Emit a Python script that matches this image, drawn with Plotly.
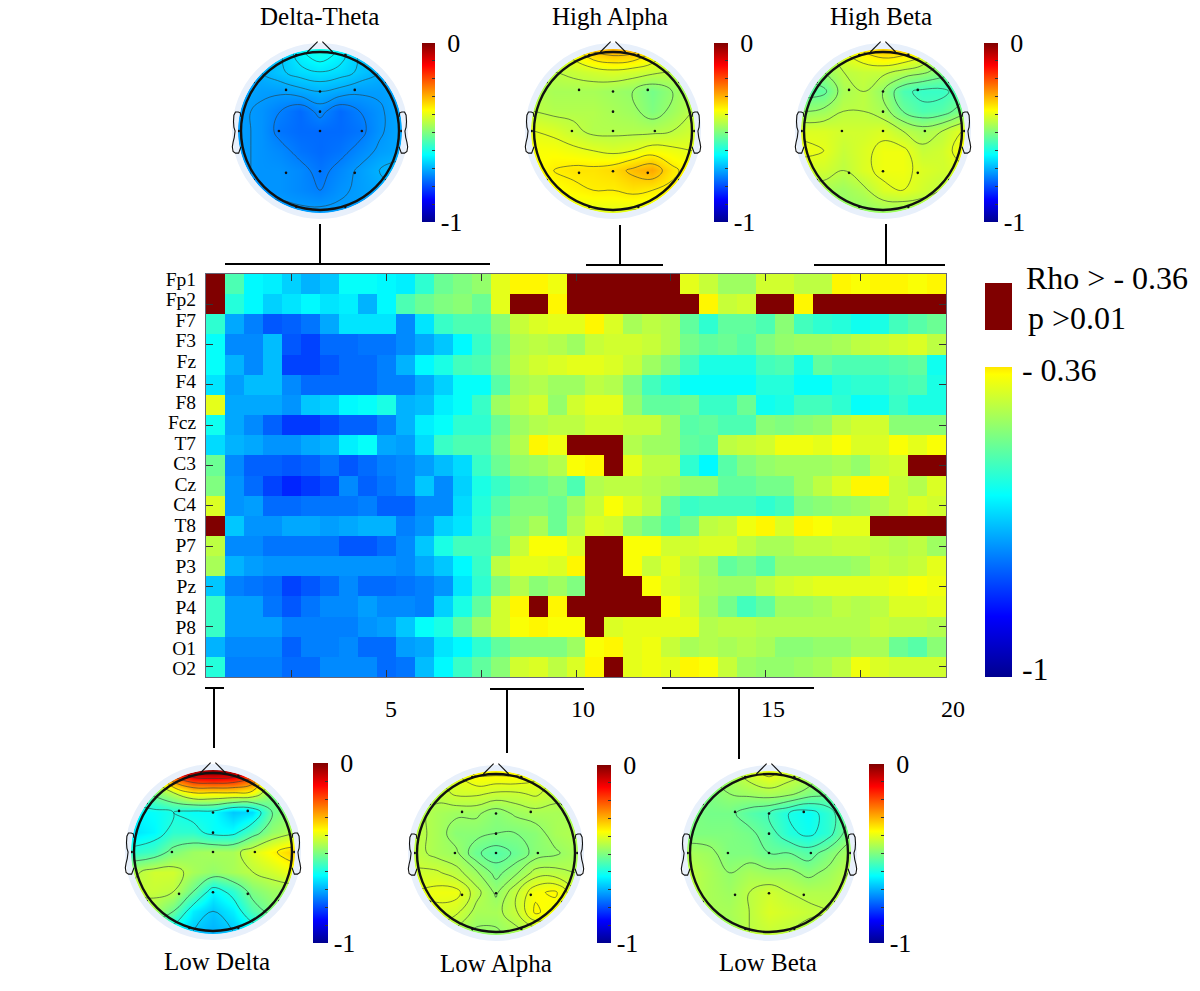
import numpy as np
import plotly.graph_objects as go

W, H = 1200, 991
FONT = "Liberation Serif"

CHANNELS = ["Fp1","Fp2","F7","F3","Fz","F4","F8","Fcz","T7","C3","Cz","C4","T8","P7","P3","Pz","P4","P8","O1","O2"]
X_TICKS = [2.5, 5, 7.5, 10, 12.5, 15, 17.5]
X_LABELS = ["5", "10", "15", "20"]
THRESHOLD = -0.36

# correlation values in hundredths of negative rho (39 frequency bins, 0.5 Hz step)
FP1 = [30,55,63,64,67,70,68,62,62,63,64,58,52,50,48,40,37,37,39,30,30,30,30,30,30,40,43,47,47,42,42,44,44,37,38,37,37,38,37]
FP2 = [30,59,63,67,65,63,65,64,70,63,55,52,50,49,52,40,30,30,37,30,30,30,30,30,30,30,37,43,42,30,30,37,30,30,30,30,30,30,30]
F7  = [58,71,75,79,78,76,71,65,65,65,74,65,57,55,55,49,43,41,40,40,37,41,46,44,45,53,58,53,53,55,49,56,58,59,61,60,56,54,52]
F3  = [62,74,74,69,79,81,77,77,76,76,74,71,68,63,57,51,45,44,45,47,43,42,42,43,45,51,53,52,54,50,48,47,47,46,44,43,42,41,44]
FZ  = [62,70,74,69,81,81,79,77,77,75,70,63,60,56,55,50,44,42,41,40,40,41,43,47,50,56,60,60,60,56,55,60,53,55,55,55,54,53,61]
F4  = [65,72,69,69,74,77,77,77,77,75,75,71,67,62,62,54,46,45,47,47,44,45,50,56,59,62,62,62,62,59,59,62,62,59,58,58,56,55,60]
F8  = [40,71,71,71,73,68,67,63,62,60,70,69,64,62,57,47,44,42,48,42,40,40,48,53,53,52,57,57,52,61,60,56,56,58,62,61,57,60,60]
FCZ = [61,71,74,78,82,82,80,78,78,75,70,64,62,58,58,52,47,45,44,44,42,42,43,43,47,54,53,55,55,49,50,49,48,44,42,42,49,49,49]
T7  = [66,70,71,73,73,71,70,64,62,71,72,66,57,55,55,50,45,37,39,30,30,30,45,47,47,53,54,44,43,42,39,39,40,38,41,41,38,40,38]
C3  = [52,74,78,78,79,78,76,79,77,75,74,72,69,66,57,52,48,47,45,38,37,30,40,44,44,58,63,54,50,48,47,47,47,46,48,43,42,30,30]
CZ  = [50,73,77,81,84,82,80,74,78,76,74,68,74,67,60,57,53,52,50,55,45,44,44,45,46,48,48,53,53,51,51,47,44,41,37,37,43,45,41]
C4  = [41,73,72,77,77,76,76,76,75,78,78,74,74,66,59,54,50,50,52,47,43,38,41,44,53,57,56,56,56,58,56,50,49,48,47,45,43,41,42]
T8  = [30,68,73,73,71,71,72,71,70,70,75,73,67,65,58,51,49,46,52,45,41,42,48,51,55,51,44,43,39,37,41,37,38,40,40,30,30,30,30]
P7  = [44,74,74,76,76,76,76,79,79,77,74,68,60,56,56,52,43,38,38,41,30,30,38,38,42,42,41,41,44,46,46,44,44,43,43,44,45,44,47]
P3  = [46,70,72,73,73,73,73,73,73,73,74,71,68,63,57,44,40,40,41,37,30,30,38,43,40,44,47,53,51,54,48,48,48,48,47,43,44,43,40]
PZ  = [68,75,76,77,81,79,77,74,77,77,76,75,73,65,58,50,45,49,47,50,30,30,30,38,41,43,46,47,47,44,42,41,40,40,40,40,39,38,39]
P4  = [57,72,72,76,79,76,74,74,72,74,74,75,67,60,53,42,37,30,37,30,30,30,30,30,38,42,47,51,56,53,47,47,46,44,45,44,41,41,40]
P8  = [57,72,72,72,75,75,75,75,73,72,68,62,60,53,47,42,38,37,38,38,30,41,40,40,40,40,45,44,44,45,45,45,45,45,45,43,44,44,45]
O1  = [70,74,74,74,78,75,75,74,77,77,72,71,65,63,58,53,50,50,50,47,38,37,40,39,43,46,45,46,45,46,49,49,48,48,46,46,52,54,49]
O2  = [59,75,75,75,77,77,74,74,74,77,76,69,63,57,53,49,42,41,44,41,37,30,40,39,40,37,38,43,47,48,48,47,46,44,39,41,42,42,42]
RHO_ROWS = [FP1,FP2,F7,F3,FZ,F4,F8,FCZ,T7,C3,CZ,C4,T8,P7,P3,PZ,P4,P8,O1,O2]

# scalp maps: negative rho in hundredths on a coarse 9 x 9 grid, top row first
DELTA_THETA = [[70,70,68,63,60,63,68,70,70],[71,70,68,66,65,66,68,70,71],[71,72,72,71,70,71,72,72,71],
               [72,73,75,77,74,77,75,73,71],[72,73,76,77,77,77,76,73,71],[72,73,74,76,77,76,74,72,71],
               [72,73,73,74,76,74,72,70,69],[72,73,73,74,75,73,72,71,70],[72,72,72,72,72,72,72,72,72]]
HIGH_ALPHA = [[42,42,38,32,30,31,36,42,42],[44,44,43,42,41,42,43,44,44],[45,46,46,46,47,48,51,48,45],
              [44,45,45,45,46,47,50,47,44],[40,41,43,45,45,45,45,44,42],[38,38,39,40,41,40,38,39,40],
              [38,36,35,35,34,31,29,35,38],[39,38,37,36,36,35,36,37,39],[41,41,40,40,40,40,40,41,41]]
HIGH_BETA = [[47,46,40,36,33,34,38,46,48],[50,48,44,43,43,45,47,50,52],[54,53,46,44,48,55,57,57,54],
             [48,47,44,44,46,52,55,54,50],[41,41,42,42,41,44,46,44,40],[39,40,43,41,39,39,43,42,38],
             [42,42,44,41,39,39,41,42,41],[46,46,47,45,41,40,42,44,46],[49,49,48,48,47,47,47,48,48]]
LOW_DELTA = [[50,40,15,5,3,5,15,45,50],[55,50,44,36,36,36,38,50,52],[63,62,60,62,62,68,66,52,48],
             [65,63,58,58,62,62,55,48,45],[58,56,50,47,46,46,41,37,33],[45,42,42,46,48,46,44,42,39],
             [43,43,44,52,63,58,50,47,47],[48,46,52,64,68,64,55,50,48],[60,60,64,68,70,68,64,60,58]]
LOW_ALPHA = [[42,42,40,37,37,37,39,42,42],[44,44,42,42,43,43,42,44,44],[44,46,47,47,49,47,46,46,46],
             [44,46,49,49,50,50,49,46,45],[44,46,47,52,54,52,49,48,46],[42,42,44,47,51,48,44,44,45],
             [40,39,39,44,48,43,38,37,42],[42,41,42,46,46,43,37,39,42],[44,44,46,48,48,46,44,43,44]]
LOW_BETA = [[48,48,46,42,39,42,44,50,52],[50,50,48,47,46,47,50,52,54],[50,51,51,54,56,60,62,58,52],
            [50,50,50,51,54,59,61,58,50],[46,47,50,50,52,52,54,50,46],[44,46,48,46,47,47,49,47,44],
            [44,46,47,44,42,44,45,45,43],[43,46,46,44,41,42,43,44,43],[48,48,47,44,43,44,46,47,48]]
GRID_X = [-1, -.75, -.5, -.25, 0, .25, .5, .75, 1]
GRID_Y = [1, .75, .5, .25, 0, -.25, -.5, -.75, -1]

ELEC_X = [-.43,0,.44,0,-.52,0,.53,-.43,0,.44,-.84,.84,-.84,.84,-.3,.32,-.3,.32,-1.03,1.03]
ELEC_Y = [.52,.5,.52,.245,0,0,0,-.53,-.51,-.53,.62,.62,-.62,-.62,.96,.96,-.96,-.96,0,0]
EAR_X = [1.0,1.01,1.035,1.07,1.09,1.095,1.09,1.075,1.085,1.10,1.11,1.10,1.07,1.03,1.0]
EAR_Y = [.18,.23,.24,.24,.20,.12,.05,0,-.08,-.14,-.2,-.26,-.28,-.28,-.2]
NOSE_X = [-.16,-.03,.03,.16]
NOSE_Y = [1.0,1.13,1.13,1.0]

# name, data, head centre, label position, colourbar box, contour step
MAPS = [
 ("Delta-Theta", DELTA_THETA, (320,131), (319,17), (422,435,43,222), .025),
 ("High Alpha",  HIGH_ALPHA,  (613,131), (610,17), (714,728,43,222), .04),
 ("High Beta",   HIGH_BETA,   (883,131), (881,17), (984,998,43,222), .04),
 ("Low Delta",   LOW_DELTA,   (213,852), (217,961), (313,328,763,943), .08),
 ("Low Alpha",   LOW_ALPHA,   (496,853), (496,963), (597,611,765,943), .025),
 ("Low Beta",    LOW_BETA,    (769,853), (768,962), (869,884,764,943), .04),
]
# horizontal span and stem of each connector, in pixels
BRACKETS = [(225,490,264,320,224),(586,663,265,620,225),(814,945,265,886,224),
            (205,224,688,214,748),(490,584,689,507,753),(662,814,688,739,759)]

JET = [[0,"#00008f"],[.125,"#0000ff"],[.375,"#00ffff"],[.625,"#ffff00"],[.875,"#ff0000"],[1,"#800000"]]
TOP = 0.64
JET_CUT = [[0,"#00008f"],[.125/TOP,"#0000ff"],[.375/TOP,"#00ffff"],[.625/TOP,"#ffff00"],[1,"#ffe600"]]

px = lambda x: x / W
py = lambda y: 1 - y / H

rho = -np.array(RHO_ROWS, dtype=float) / 100
freq = np.arange(1, 40) / 2
rows = np.arange(1, 21)
below = np.where(rho <= THRESHOLD, rho, np.nan)
above = np.where(rho > THRESHOLD, 1.0, np.nan)

fig = go.Figure()
fig.add_trace(go.Heatmap(x=freq, y=rows, z=below, zmin=-1, zmax=THRESHOLD, colorscale=JET_CUT, hoverongaps=False,
    colorbar=dict(x=px(985), xanchor="left", y=py(677), yanchor="bottom", lenmode="pixels", len=310,
                  thicknessmode="pixels", thickness=27, xpad=0, ypad=0, outlinewidth=0, ticks="outside", ticklen=4,
                  tickcolor="white", tickmode="array", tickvals=[-.366,-.984], ticktext=["- 0.36","-1"],
                  tickfont=dict(family=FONT, size=32, color="black"))))
fig.add_trace(go.Heatmap(x=freq, y=rows, z=above, zmin=0, zmax=1, colorscale=[[0,"#800000"],[1,"#800000"]],
                         showscale=False, hoverongaps=False))
# empty trace that keeps the even-row tick axis alive
fig.add_trace(go.Scatter(x=[None], y=[None], xaxis="x", yaxis="y8", hoverinfo="skip"))

layout = dict(
    width=W, height=H, margin=dict(l=0,r=0,t=0,b=0,autoexpand=False), paper_bgcolor="white", plot_bgcolor="white", showlegend=False,
    xaxis=dict(domain=[px(206),px(946)], range=[.25,19.75], anchor="y", tickmode="array", tickvals=X_TICKS,
               ticks="inside", ticklen=7, tickcolor="#333", showticklabels=False, showgrid=False, zeroline=False,
               showline=True, linecolor="#667", linewidth=1, mirror="ticks"),
    yaxis=dict(domain=[py(677),py(274)], range=[20.5,.5], anchor="x", tickmode="array",
               tickvals=[(279+20.5*i-274)/20.15+.5 for i in range(20)], ticktext=CHANNELS,
               ticks="", tickfont=dict(family=FONT, size=19.5, color="black"), ticklabelstandoff=5,
               showgrid=False, zeroline=False, showline=True, linecolor="#667", linewidth=1, mirror=True),
    yaxis8=dict(domain=[py(677),py(274)], overlaying="y", anchor="x", range=[20.5,.5], tickmode="array", tickvals=list(rows[1::2]),
                ticks="inside", ticklen=7, tickcolor="#333", showticklabels=False, showgrid=False, zeroline=False,
                showline=False, mirror="ticks"),
)

shapes, annotations = [], []
HEAD_R = 79
RANGE = 1.2
DISC_R = 1.04
theta = np.linspace(0, 2*np.pi, 121)[:-1]

def polyline(xs, ys):
    return "M" + " L".join(f"{a:.3f},{b:.3f}" for a, b in zip(xs, ys))

for i, (name, data, (cx,cy), (lx,ly), (bl,br,bt,bb), step) in enumerate(MAPS):
    n = i + 2
    xa, ya = f"x{n}", f"y{n}"
    hs = RANGE * HEAD_R
    layout[f"xaxis{n}"] = dict(domain=[px(cx-hs),px(cx+hs)], range=[-RANGE,RANGE], anchor=ya, visible=False)
    layout[f"yaxis{n}"] = dict(domain=[py(cy+hs),py(cy-hs)], range=[-RANGE,RANGE], anchor=xa, visible=False)
    z = -np.array(data, dtype=float) / 100
    fig.add_trace(go.Heatmap(x=GRID_X, y=GRID_Y, z=z, xaxis=xa, yaxis=ya, zmin=-1, zmax=0, colorscale=JET, zsmooth="best",
        colorbar=dict(x=px(bl), xanchor="left", y=py(bb), yanchor="bottom", lenmode="pixels", len=bb-bt,
                      thicknessmode="pixels", thickness=br-bl, xpad=0, ypad=0, outlinewidth=0,
                      tickmode="array", tickvals=[round(-1+.1*k,1) for k in range(11)],
                      ticktext=["-1"]+[""]*9+["\u00a00"], ticks="inside", ticklen=3, tickcolor="#333",
                      tickfont=dict(family=FONT, size=26, color="black"))))
    fig.add_trace(go.Contour(x=GRID_X, y=GRID_Y, z=z, xaxis=xa, yaxis=ya, showscale=False, hoverinfo="skip",
        contours=dict(coloring="none", start=-1, end=0, size=step), line=dict(color="#2a3a3a", width=.6, smoothing=1.2)))
    fig.add_trace(go.Scatter(x=ELEC_X, y=ELEC_Y, xaxis=xa, yaxis=ya, mode="markers", hoverinfo="skip", cliponaxis=False,
                             marker=dict(color="#111", size=2.6)))
    # white surround that clips the square map to the scalp disc
    ring = "M" + " L".join(f"{DISC_R*np.cos(t):.4f},{DISC_R*np.sin(t):.4f}" for t in theta) + " Z"
    shapes.append(dict(type="path", xref=xa, yref=ya, layer="above", fillrule="evenodd",
                       path=f"M-1.2,-1.2 L1.2,-1.2 L1.2,1.2 L-1.2,1.2 Z {ring}", fillcolor="white", line=dict(width=0)))
    r = 1.076
    shapes.append(dict(type="circle", xref=xa, yref=ya, layer="above", x0=-r,x1=r,y0=-r,y1=r, line=dict(color="#e8f0fb", width=6)))
    shapes.append(dict(type="circle", xref=xa, yref=ya, layer="above", x0=-1,x1=1,y0=-1,y1=1, line=dict(color="#111", width=2.4)))
    outline = dict(xref=xa, yref=ya, layer="above", type="path", line=dict(color="#111", width=1.1))
    shapes.append(dict(outline, path=polyline(EAR_X, EAR_Y)))
    shapes.append(dict(outline, path=polyline([-v for v in EAR_X], EAR_Y)))
    shapes.append(dict(outline, path=polyline(NOSE_X[:2], NOSE_Y[:2])))
    shapes.append(dict(outline, path=polyline(NOSE_X[2:], NOSE_Y[2:])))
    annotations.append(dict(xref="paper", yref="paper", x=px(lx), y=py(ly), text=name, showarrow=False,
                            xanchor="center", yanchor="middle", font=dict(family=FONT, size=25, color="black")))

for x0, x1, y, sx, sy in BRACKETS:
    shapes.append(dict(type="line", xref="paper", yref="paper", x0=px(x0), x1=px(x1), y0=py(y), y1=py(y), line=dict(color="black", width=2)))
    shapes.append(dict(type="line", xref="paper", yref="paper", x0=px(sx), x1=px(sx), y0=py(y), y1=py(sy), line=dict(color="black", width=2)))

shapes.append(dict(type="rect", xref="paper", yref="paper", x0=px(985), x1=px(1012), y0=py(330), y1=py(283),
                   fillcolor="#800000", line=dict(width=0)))
for text, x in zip(X_LABELS, (391, 583, 773, 953)):
    annotations.append(dict(xref="paper", yref="paper", x=px(x), y=py(709), text=text, showarrow=False,
                            xanchor="center", yanchor="middle", font=dict(family=FONT, size=24, color="black")))
annotations.append(dict(xref="paper", yref="paper", x=px(1024), y=py(278), text="Rho > - 0.36", showarrow=False, xanchor="left",
                        yanchor="middle", font=dict(family=FONT, size=32, color="black")))
annotations.append(dict(xref="paper", yref="paper", x=px(1026), y=py(318), text="p >0.01", showarrow=False, xanchor="left",
                        yanchor="middle", font=dict(family=FONT, size=32, color="black")))
layout["shapes"] = shapes
layout["annotations"] = annotations
fig.update_layout(**layout)
fig.write_html("out.html", config=dict(displayModeBar=False),
               post_script="document.body.style.margin='0';document.body.style.overflow='hidden';")
